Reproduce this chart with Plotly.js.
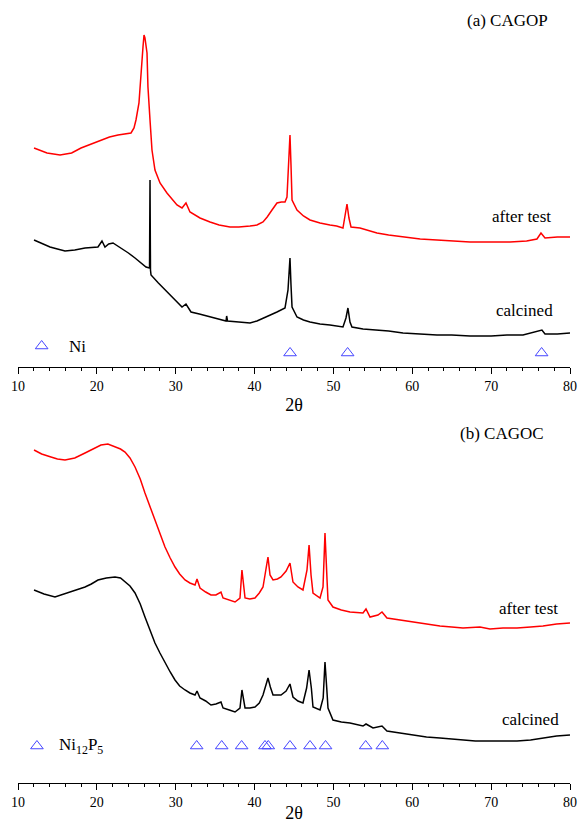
<!DOCTYPE html>
<html>
<head>
<meta charset="utf-8">
<script src="https://cdn.plot.ly/plotly-3.0.1.min.js"></script>
<style>html,body{margin:0;padding:0;background:#fff;}#chart{width:580px;height:823px;}</style>
</head>
<body>
<div id="chart"></div>
<script>
// ---- (a) CAGOP ----
const aAfterX = [12.03,13.0,13.68,15.33,16.8,17.99,19.3,20.52,21.6,22.68,23.5,24.33,24.71,24.96,25.34,25.60,25.85,25.98,26.10,26.36,26.48,26.74,26.99,27.37,28.01,28.89,29.5,30.16,30.80,31.30,31.81,32.4,33.08,34.35,35.5,36.88,38.0,39.42,40.3,41.07,41.6,42.21,42.84,43.4,43.86,44.11,44.37,44.49,44.62,44.75,45.38,46.2,47.03,48.3,49.56,50.4,51.21,51.53,51.72,51.97,52.23,53.37,55.52,57.0,58.82,61.0,63.13,65.0,67.32,70.0,72.39,74.5,75.81,76.32,76.83,78.4,80.0];
const aAfterY = [219,216,214,212,214,219,223,227,230,232,233,234,239,247,264,297,320,332,329,314,280,247,217,197,184,174,168,162,159,164,155,152,149,145,142,140,140,141,142,145,150,157,164,165,165,170,207,232,202,167,157,151,147,144,142,141,139,152,163,149,140,139,134,132,130,128,127,126,125,125,125,126,128,134,129,130,130];
const aCalcX = [12.03,13.0,14.06,15.0,15.96,17.2,18.50,20.14,20.65,21.03,21.5,22.05,23.06,24.0,24.84,25.6,26.23,26.68,26.74,26.80,26.87,27.8,28.64,29.5,30.29,30.8,31.30,31.94,33.0,34.35,35.5,36.38,36.46,36.57,38.0,39.42,40.3,41.07,42.0,42.84,43.86,44.24,44.49,44.62,44.75,45.38,46.2,47.03,48.3,49.56,51.21,51.59,51.84,52.10,52.35,53.75,55.52,57.0,58.82,61.0,63.13,65.0,67.32,70.0,72.0,74.04,76.19,76.44,76.83,78.4,80.0];
const aCalcY = [127,124,120,118,116,117,119,120,126,120,123,124,119,114,109,104,100,99,187,97,92,84,77,70,64,60,63,55,53,50,48,46,51,46,45,44,46,49,52,55,59,77,109,82,60,50,47,45,43,42,40,49,59,45,40,38,37,36,34,33,32,32,31,31,32,32,36,37,33,33,34];
const aNiX = [44.5,51.8,76.4];
const aNiY = [14,14,14];

// ---- (b) CAGOC ----
const bAfterX = [12.03,13.0,14.18,15.0,15.96,17.2,18.50,19.5,20.52,21.4,22.30,23.0,23.57,24.2,24.84,25.5,26.10,26.7,27.37,28.0,28.64,29.3,29.91,30.5,31.18,31.8,32.45,32.70,33.08,33.8,34.47,35.1,35.74,36.00,36.8,37.52,38.15,38.40,38.79,39.4,40.05,40.6,41.07,41.45,41.70,41.96,42.34,42.9,43.35,44.0,44.49,44.87,45.5,46.14,46.65,46.91,47.16,47.41,48.30,48.68,48.93,49.19,49.31,49.94,51.0,52.10,53.75,54.13,54.64,55.65,56.16,56.79,58.44,60.09,61.8,63.51,65.0,66.43,68.58,69.85,71.5,73.28,75.0,76.57,78.3,80.0];
const bAfterY = [333,329,326,324,323,325,330,334,338,339,336,334,331,325,316,304,290,277,263,249,236,225,216,209,203,200,198,204,195,191,188,188,191,185,183,181,185,213,185,184,185,190,196,213,226,208,203,204,206,212,220,201,196,193,213,238,208,190,185,196,250,203,183,176,173,171,170,174,166,168,171,165,163,161,159,157,156,155,156,154,155,155,156,157,159,160];
const bCalcX = [12.03,13.3,14.69,15.5,16.34,17.4,18.50,19.3,20.14,21.2,22.30,23.0,23.57,24.2,24.84,25.5,26.10,26.7,27.37,28.0,28.64,29.3,29.91,30.5,31.18,31.8,32.45,32.70,33.08,33.8,34.47,35.1,35.74,36.00,36.8,37.52,38.15,38.40,38.79,39.4,40.05,40.6,41.07,41.45,41.70,42.0,42.34,42.9,43.35,44.0,44.49,44.87,45.5,46.14,46.6,46.91,47.2,47.41,48.30,48.7,48.93,49.15,49.31,49.94,51.0,52.10,53.75,54.13,55.02,56.16,56.79,58.44,60.09,61.8,63.51,65.0,66.43,68.0,69.85,71.5,73.28,75.0,76.57,78.3,80.0];
const bCalcY = [193,189,186,188,190,193,196,199,203,205,206,205,201,197,190,179,166,153,140,130,120,111,103,97,93,90,88,92,85,82,78,79,81,75,73,71,75,93,75,75,76,80,88,98,105,96,88,88,88,92,99,86,82,80,95,113,95,76,73,85,121,95,75,63,61,60,57,59,55,57,52,50,48,46,45,44,43,42,42,42,42,43,45,47,48];
const bNiPX = [32.66,35.83,38.36,41.32,41.74,44.49,47.03,49.0,54.09,56.2];
const bNiPY = [37,37,37,37,37,37,37,37,37,37];

const triColor = 'rgb(70,70,255)';
const serif = 'Liberation Serif';

function line(x, y, color, xa, ya) {
  return {x: x, y: y, type: 'scatter', mode: 'lines', line: {color: color, width: 1.5, shape: 'linear'},
          xaxis: xa, yaxis: ya, hoverinfo: 'skip', showlegend: false};
}
function tri(x, y, xa, ya) {
  return {x: x, y: y, type: 'scatter', mode: 'markers',
          marker: {symbol: 'triangle-up-open', size: 11, color: triColor, line: {width: 1, color: triColor}},
          xaxis: xa, yaxis: ya, hoverinfo: 'skip', showlegend: false};
}

const data = [
  line(aAfterX, aAfterY, 'red', 'x', 'y'),
  line(aCalcX, aCalcY, 'black', 'x', 'y'),
  tri(aNiX, aNiY, 'x', 'y'),
  tri([13.0], [21], 'x', 'y'),
  line(bAfterX, bAfterY, 'red', 'x2', 'y2'),
  line(bCalcX, bCalcY, 'black', 'x2', 'y2'),
  tri(bNiPX, bNiPY, 'x2', 'y2'),
  tri([12.4], [37], 'x2', 'y2')
];

const xax = (anchor) => ({
  anchor: anchor, range: [10, 80], dtick: 10, tick0: 0,
  ticks: 'outside', ticklen: 6, tickwidth: 1, tickcolor: 'black',
  minor: {dtick: 2, ticks: 'outside', ticklen: 3, tickwidth: 1, tickcolor: 'black'},
  showline: true, linecolor: 'black', linewidth: 1,
  showgrid: false, zeroline: false,
  tickfont: {family: serif, size: 14, color: 'black'},
  title: {text: '2θ', font: {family: serif, size: 18, color: 'black'}, standoff: 5}
});

function ann(text, x, y, xa, ya, anchor) {
  return {text: text, x: x, y: y, xref: xa, yref: ya, showarrow: false,
          xanchor: anchor || 'right', yanchor: 'middle',
          font: {family: serif, size: 17, color: 'black'}};
}

const layout = {
  width: 580, height: 823,
  margin: {l: 18, r: 10, t: 0, b: 40},
  paper_bgcolor: 'white', plot_bgcolor: 'white',
  showlegend: false,
  font: {family: serif, color: 'black'},
  xaxis: xax('y'),
  xaxis2: xax('y2'),
  yaxis: {domain: [0.5313, 1], range: [0, 367], visible: false, fixedrange: true},
  yaxis2: {domain: [0, 0.4636], range: [0, 363], visible: false, fixedrange: true},
  annotations: [
    ann('(a) CAGOP', 77.46, 347, 'x', 'y'),
    ann('after test', 77.84, 151, 'x', 'y'),
    ann('calcined', 78.1, 56, 'x', 'y'),
    ann('Ni', 16.2, 20, 'x', 'y', 'left'),
    ann('(b) CAGOC', 76.95, 350, 'x2', 'y2'),
    ann('after test', 78.73, 175, 'x2', 'y2'),
    ann('calcined', 78.86, 64, 'x2', 'y2'),
    ann('Ni<sub>12</sub>P<sub>5</sub>', 14.9, 37, 'x2', 'y2', 'left')
  ]
};

Plotly.newPlot('chart', data, layout, {displayModeBar: false, staticPlot: true});
</script>
</body>
</html>
